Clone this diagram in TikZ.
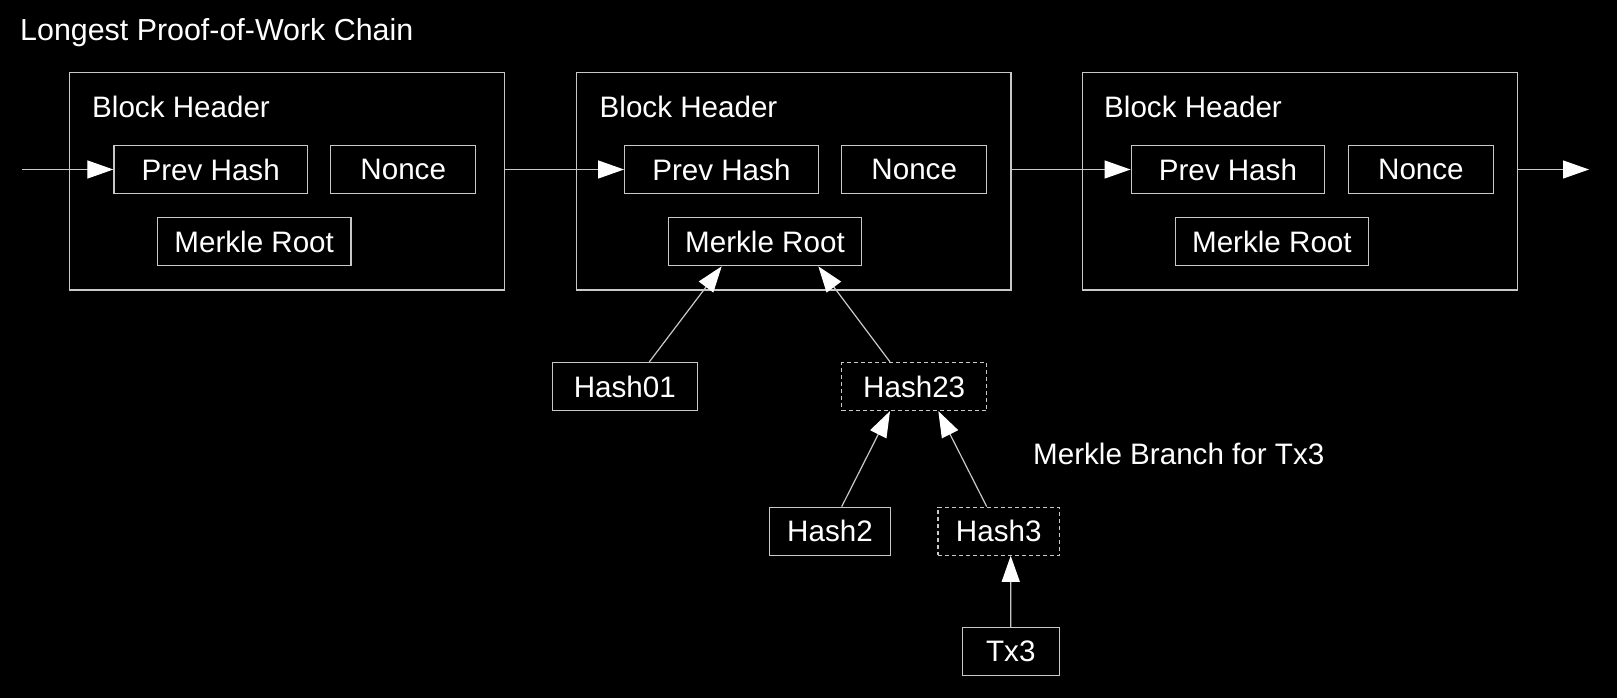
\documentclass[tikz,border=0pt]{standalone}
\usepackage{fontspec}
\setmainfont{Liberation Sans}
\usetikzlibrary{arrows.meta}
\definecolor{edgegray}{RGB}{200,200,200}
\begin{document}
\begin{tikzpicture}[x=1pt,y=-1pt,
  every node/.style={text=white, font=\fontsize{29.6}{35}\selectfont},
  field/.style={draw=edgegray, line width=1.2pt, inner sep=0pt, minimum height=48pt},
  branchbox/.style={field, dash pattern=on 4pt off 3pt},
  blockbox/.style={draw=edgegray, line width=1.2pt, inner sep=0pt,
    minimum width=434.5pt, minimum height=217.3pt},
  plaintext/.style={inner sep=0pt, anchor=base west},
  link/.style={draw=edgegray, line width=1.2pt,
    -{Triangle[length=26pt,width=18pt,color=white,fill=white]}}
]
% canvas
\fill[black] (0,0) rectangle (1617,698);

% title
\node[plaintext, font=\fontsize{30.4}{36}\selectfont] (title) at (20,40.5) {Longest Proof-of-Work Chain};

% block headers
\node[blockbox] (b1) at (287,181.35) {};
\node[blockbox] (b2) at (793.7,181.35) {};
\node[blockbox] (b3) at (1300,181.35) {};

\node[plaintext] (t1) at (92,117.8) {Block Header};
\node[plaintext] (t2) at (599.5,117.8) {Block Header};
\node[plaintext] (t3) at (1104,117.8) {Block Header};

% header fields
\node[field, minimum width=193.5pt] (ph1) at (210.7,169.5) {Prev Hash};
\node[field, minimum width=145pt]   (pn1) at (403.2,169.5) {Nonce};
\node[field, minimum width=193.5pt] (mr1) at (254.2,241.7) {Merkle Root};

\node[field, minimum width=193.5pt] (ph2) at (721.4,169.5) {Prev Hash};
\node[field, minimum width=145pt]   (pn2) at (914.2,169.5) {Nonce};
\node[field, minimum width=193.5pt] (mr2) at (765,241.7) {Merkle Root};

\node[field, minimum width=193.5pt] (ph3) at (1227.9,169.5) {Prev Hash};
\node[field, minimum width=145pt]   (pn3) at (1420.9,169.5) {Nonce};
\node[field, minimum width=193.5pt] (mr3) at (1271.9,241.7) {Merkle Root};

% merkle tree below the middle block
\node[field, minimum width=145pt]     (h01) at (624.8,386.5) {Hash01};
\node[branchbox, minimum width=145pt] (h23) at (914.2,386.5) {Hash23};
\node[field, minimum width=121.4pt]   (h2)  at (830,531.2) {Hash2};
\node[branchbox, minimum width=121.4pt] (h3) at (998.7,531.2) {Hash3};
\node[field, minimum width=97pt]      (tx3) at (1010.8,651.8) {Tx3};

\node[plaintext] (branchtitle) at (1033,464) {Merkle Branch for Tx3};

% chain links
\coordinate (chainin) at (22,169.5);
\coordinate (chainout) at (1589,169.5);
\draw[link] (chainin) -- (ph1.west);
\draw[link] (b1.east |- ph2.west) -- (ph2.west);
\draw[link] (b2.east |- ph3.west) -- (ph3.west);
\draw[link] (b3.east |- ph3.west) -- (chainout);

% hash links
\draw[link] ([xshift=24.5pt]h01.north) -- ([xshift=-43.3pt]mr2.south);
\draw[link] ([xshift=-24.2pt]h23.north) -- ([xshift=53.3pt]mr2.south);
\draw[link] ([xshift=11.7pt]h2.north) -- ([xshift=-24.2pt]h23.south);
\draw[link] ([xshift=-12pt]h3.north) -- ([xshift=24.1pt]h23.south);
\draw[link] (tx3.north) -- ([xshift=12pt]h3.south);
\end{tikzpicture}
\end{document}
